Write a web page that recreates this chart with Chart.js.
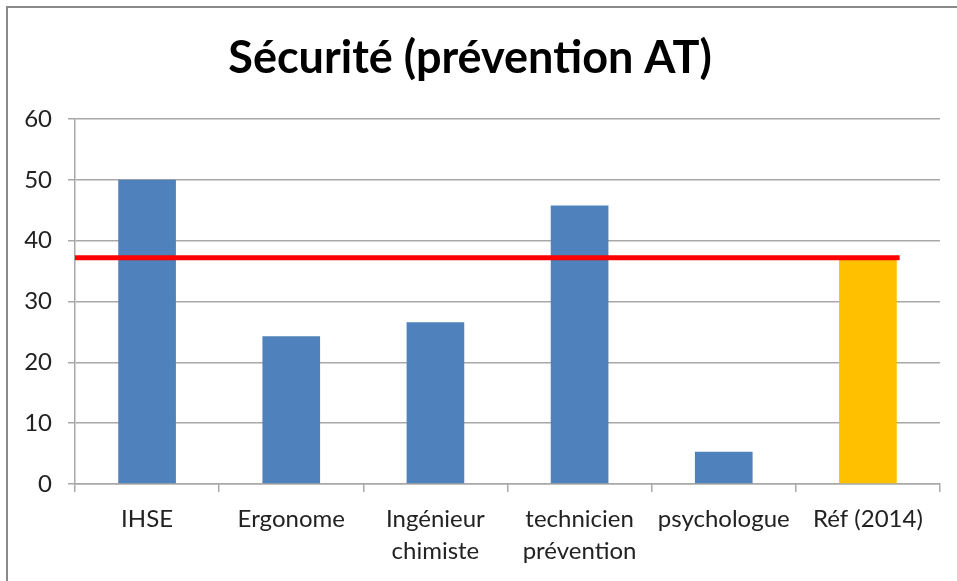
<!DOCTYPE html>
<html>
<head>
<meta charset="utf-8">
<title>Sécurité (prévention AT)</title>
<script src="https://cdn.jsdelivr.net/npm/chart.js@4"></script>
<style>
  html, body { margin: 0; padding: 0; background: #fff; overflow: hidden; }
  #frame {
    position: absolute; left: 6px; top: 6px; width: 980px; height: 600px;
    border-left: 2px solid #8a8a8a; border-top: 2px solid #8a8a8a;
  }
  #wrap { position: absolute; left: 0; top: 0; width: 957px; height: 581px; }
</style>
</head>
<body>
<div id="frame"></div>
<div id="wrap"><canvas id="chart" width="957" height="581"></canvas></div>
<script>
// données
const CATEGORIES = [['IHSE'], ['Ergonome'], ['Ingénieur', 'chimiste'], ['technicien', 'prévention'], ['psychologue'], ['Réf (2014)']];
const VALEURS    = [50, 24.3, 26.6, 45.8, 5.3, 37.2];
const Y_TICKS    = [0, 10, 20, 30, 40, 50, 60];
const REF_NIVEAU = 37.2;        // ligne rouge de référence
const REF_LIGNE_X = [0, 5.72];  // étendue de la ligne, en unités de catégorie

const REF_IDX = CATEGORIES.length - 1;
const GRIS = '#a8a8a8';
const FONT = 'Lato, "Open Sans", sans-serif';

const barColors = VALEURS.map((v, i) => i === REF_IDX ? '#FFC000' : '#4F81BD');

new Chart(document.getElementById('chart'), {
  data: {
    labels: CATEGORIES,
    datasets: [
      {
        type: 'line',
        order: 0,
        xAxisID: 'xl',
        data: REF_LIGNE_X.map(x => ({ x, y: REF_NIVEAU })),
        borderColor: '#FF0000',
        borderWidth: 5,
        pointRadius: 0,
        borderCapStyle: 'butt',
      },
      {
        type: 'bar',
        order: 1,
        xAxisID: 'x',
        grouped: false,
        data: VALEURS,
        backgroundColor: barColors,
        barPercentage: 0.4,
        categoryPercentage: 1,
      },
    ],
  },
  options: {
    responsive: false,
    animation: false,
    layout: { padding: { left: 0, right: 17, top: 0, bottom: 0 } },
    plugins: {
      legend: { display: false },
      tooltip: { enabled: false },
      title: {
        display: true,
        text: 'Sécurité (prévention AT)',
        color: '#000',
        font: { family: FONT, size: 45, weight: 'bold' },
        padding: { top: 31, bottom: 34 },
      },
    },
    scales: {
      x: {
        type: 'category',
        offset: true,
        grid: { display: true, offset: true, drawOnChartArea: false, color: GRIS, lineWidth: 1.5, tickLength: 8 },
        border: { display: true, color: GRIS, width: 1.5 },
        ticks: { color: '#222', font: { family: FONT, size: 24, lineHeight: 1.3 }, padding: 12, maxRotation: 0, autoSkip: false },
        afterFit: s => { s.height = 97; },
      },
      xl: {
        type: 'linear',
        display: false,
        min: 0,
        max: CATEGORIES.length,
      },
      y: {
        min: Y_TICKS[0],
        max: Y_TICKS[Y_TICKS.length - 1],
        afterBuildTicks: s => { s.ticks = Y_TICKS.map(v => ({ value: v })); },
        grid: { color: GRIS, lineWidth: 1.5, tickLength: 7 },
        border: { display: true, color: GRIS, width: 1.5 },
        ticks: { color: '#222', font: { family: FONT, size: 24 }, padding: 16 },
        afterFit: s => { s.width = 75; },
      },
    },
  },
});
</script>
</body>
</html>
